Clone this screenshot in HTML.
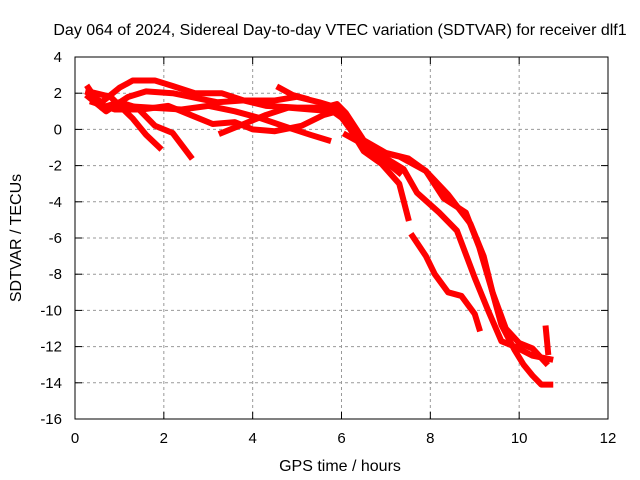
<!DOCTYPE html>
<html><head><meta charset="utf-8"><style>
body{margin:0;background:#fff;}
svg{display:block;font-family:"Liberation Sans",sans-serif;}
</style></head><body>
<svg id="chart" width="640" height="480">
<text x="340" y="35" font-size="16" text-anchor="middle">Day 064 of 2024, Sidereal Day-to-day VTEC variation (SDTVAR) for receiver dlf1</text>
<text x="340" y="471" font-size="16" text-anchor="middle">GPS time / hours</text>
<text transform="translate(21,238) rotate(-90)" font-size="16" text-anchor="middle">SDTVAR / TECUs</text>
<g id="grid"></g><g id="series"></g>
<rect x="75" y="57" width="533" height="362" fill="none" stroke="#000" stroke-width="1"/>
</svg>
<script>
const xTicks=[0,2,4,6,8,10,12];
const yTicks=[4,2,0,-2,-4,-6,-8,-10,-12,-14,-16];
const track1=[[0.3,2.0],[0.6,1.5],[1.0,2.3],[1.3,2.7],[1.8,2.7],[2.2,2.4],[2.7,2.0],[3.3,2.0],[3.8,1.6],[4.3,1.3],[5.0,1.2],[5.6,1.2],[5.9,1.4],[6.1,0.9],[6.5,-0.6],[7.0,-1.3],[7.5,-1.6],[7.9,-2.3],[8.3,-3.8],[8.8,-4.6],[9.1,-6.5],[9.4,-9],[9.7,-11],[10.0,-11.8],[10.3,-12.1],[10.6,-12.9]];
const track2=[[0.3,1.8],[0.7,1.0],[1.2,1.8],[1.6,2.1],[2.2,2.0],[2.6,1.8],[3.2,1.5],[3.8,1.6],[4.5,1.6],[5.0,1.8],[5.5,1.5],[5.9,1.2],[6.3,0],[6.6,-1.1],[7.0,-1.6],[7.4,-2.2],[7.7,-3.5],[8.2,-4.6],[8.6,-5.6],[9.0,-8.2],[9.3,-10],[9.6,-11.7],[9.9,-12.0],[10.3,-12.5],[10.7,-12.7]];
const track3=[[0.4,1.5],[0.9,1.1],[1.5,1.1],[2.1,1.3],[2.6,0.8],[3.1,0.3],[3.6,0.4],[4.0,0.0],[4.5,-0.1],[5.1,0.2],[5.6,0.8],[5.9,1.0],[6.2,0],[6.5,-1.2],[6.9,-1.9],[7.3,-3.0],[7.5,-4.9]];
const track3b=[[7.6,-5.9],[7.9,-7],[8.1,-8],[8.4,-9],[8.7,-9.2],[9.0,-10.2],[9.1,-11]];
const track4=[[0.3,2.3],[0.6,1.2],[1.0,1.5],[1.4,1.2],[1.8,0.2],[2.2,-0.2],[2.6,-1.5]];
const track5=[[0.3,2.1],[0.8,1.8],[1.3,0.6],[1.6,-0.3],[1.9,-1.0]];
const track6=[[1.1,1.3],[1.7,1.2],[2.4,1.1],[3.0,1.3],[3.6,1.0],[4.2,0.6],[4.8,0.1],[5.3,-0.3],[5.7,-0.6]];
const track7=[[3.3,-0.2],[3.8,0.3],[4.3,0.8],[4.8,1.2],[5.3,1.1],[5.8,1.0],[6.2,0.3],[6.6,-1.0],[7.0,-1.8],[7.3,-2.4]];
const track8=[[6.1,-0.3],[6.4,-0.7],[6.8,-1.2],[7.3,-1.5],[7.9,-2.3],[8.4,-3.6],[8.9,-5.2],[9.2,-7],[9.4,-9],[9.6,-10.8],[9.9,-12.2],[10.1,-13.0],[10.3,-13.6],[10.5,-14.1],[10.7,-14.1]];
const track9=[[10.6,-11],[10.65,-12.3]];
const track10=[[4.6,2.3],[4.9,1.9],[5.2,1.7]];
const tracks=[track1,track2,track3,track3b,track4,track5,track6,track7,track8,track9,track10];
const X=h=>75+h*533/12, Y=v=>57+(4-v)*362/20;
const NS='http://www.w3.org/2000/svg';
const grid=document.getElementById('grid'), ser=document.getElementById('series');
function mk(tag,attrs,parent){const e=document.createElementNS(NS,tag);for(const k in attrs)e.setAttribute(k,attrs[k]);parent.appendChild(e);return e;}
xTicks.forEach(t=>{
  const x=X(t);
  if(t>0&&t<12){const g=mk('line',{x1:x,x2:x,y1:57,y2:419,stroke:'#999','stroke-dasharray':'3,3'},grid);
  
  }
  mk('line',{x1:x,x2:x,y1:419,y2:412,stroke:'#000'},grid);
  mk('line',{x1:x,x2:x,y1:57,y2:64,stroke:'#000'},grid);
  const l=mk('text',{x:x,y:443,'font-size':15,'text-anchor':'middle'},grid);l.textContent=t;
  
  
});
yTicks.forEach(t=>{
  const y=Y(t);
  if(t<4&&t>-16){const g=mk('line',{x1:75,x2:608,y1:y,y2:y,stroke:'#999','stroke-dasharray':'3,3'},grid);
  
  }
  mk('line',{x1:75,x2:82,y1:y,y2:y,stroke:'#000'},grid);
  mk('line',{x1:601,x2:608,y1:y,y2:y,stroke:'#000'},grid);
  const l=mk('text',{x:62,y:y+5,'font-size':15,'text-anchor':'end'},grid);l.textContent=t;
  
  
});
tracks.forEach(tr=>{
  const p=mk('polyline',{points:tr.map(d=>X(d[0])+','+Y(d[1])).join(' '),fill:'none',stroke:'#f00','stroke-width':6,'stroke-linejoin':'round','stroke-linecap':'square'},ser);
  
  
});
</script>
</body></html>
